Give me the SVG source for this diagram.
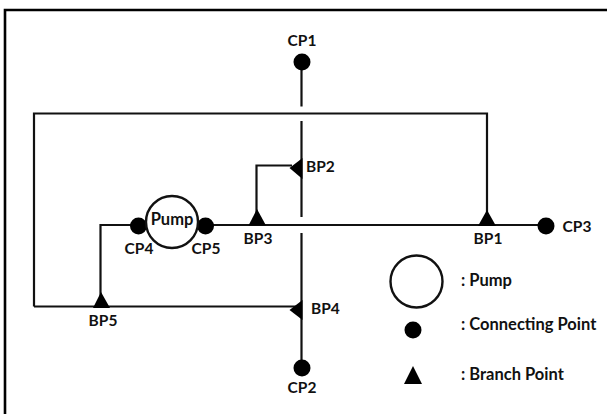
<svg xmlns="http://www.w3.org/2000/svg" width="607" height="414" viewBox="0 0 607 414">
<style>
.w{fill:none;stroke:#111;stroke-width:2.2;stroke-linejoin:miter}
.d{fill:#000}
.p{fill:#fff;stroke:#111;stroke-width:2.4}
text{font-family:Lato,"Open Sans","Liberation Sans",sans-serif;font-size:15.500px;font-weight:700;fill:#111}
.l{font-size:16.500px}
</style>
<rect width="607" height="414" fill="#fff"/>
<path id="frame" d="M5 414V10H607" fill="none" stroke="#000" stroke-width="2.6"/>
<g id="connectors">
<path class="w" d="M301.500 62V106.500M301.500 121V217M301.500 233V368"/>
<path class="w" d="M34 306.500V113.500H487V225"/>
<path class="w" d="M34 306.500H302"/>
<path class="w" d="M100.500 306V225H139M205 225H546"/>
<path class="w" d="M292 165.500H256.500V225"/>
</g>
<g id="CP1"><circle class="d" cx="302" cy="62" r="8.500"/><text x="302" y="46" text-anchor="middle">CP1</text></g>
<g id="CP2"><circle class="d" cx="302" cy="368" r="8.500"/><text x="302" y="393" text-anchor="middle">CP2</text></g>
<g id="CP3"><circle class="d" cx="546" cy="226" r="8.500"/><text x="577" y="232" text-anchor="middle">CP3</text></g>
<g id="CP4"><circle class="d" cx="138.500" cy="226" r="8.500"/><text x="139" y="254" text-anchor="middle">CP4</text></g>
<g id="CP5"><circle class="d" cx="205.500" cy="226" r="8.500"/><text x="206" y="254" text-anchor="middle">CP5</text></g>
<g id="Pump"><circle class="p" cx="172" cy="222" r="26"/><text class="l" x="172" y="225" text-anchor="middle">Pump</text></g>
<g id="BP1"><path class="d" d="M487 210L496 226H478Z"/><text x="488" y="244" text-anchor="middle">BP1</text></g>
<g id="BP2"><path class="d" d="M289.500 168L302.500 158V179Z"/><text x="306" y="172">BP2</text></g>
<g id="BP3"><path class="d" d="M257 209L266 225.500H248.500Z"/><text x="258" y="244" text-anchor="middle">BP3</text></g>
<g id="BP4"><path class="d" d="M289.500 310L302.500 300V320Z"/><text x="311" y="314">BP4</text></g>
<g id="BP5"><path class="d" d="M101 292L110 308H93Z"/><text x="103" y="326" text-anchor="middle">BP5</text></g>
<g id="legend-pump"><circle class="p" cx="416.500" cy="281.500" r="26" fill="none"/><text class="l" x="461" y="286">: Pump</text></g>
<g id="legend-connecting"><circle class="d" cx="413" cy="330" r="8.500"/><text class="l" x="461" y="330">: Connecting Point</text></g>
<g id="legend-branch"><path class="d" d="M413 366L422 384H404Z"/><text class="l" x="461" y="380">: Branch Point</text></g>
</svg>
